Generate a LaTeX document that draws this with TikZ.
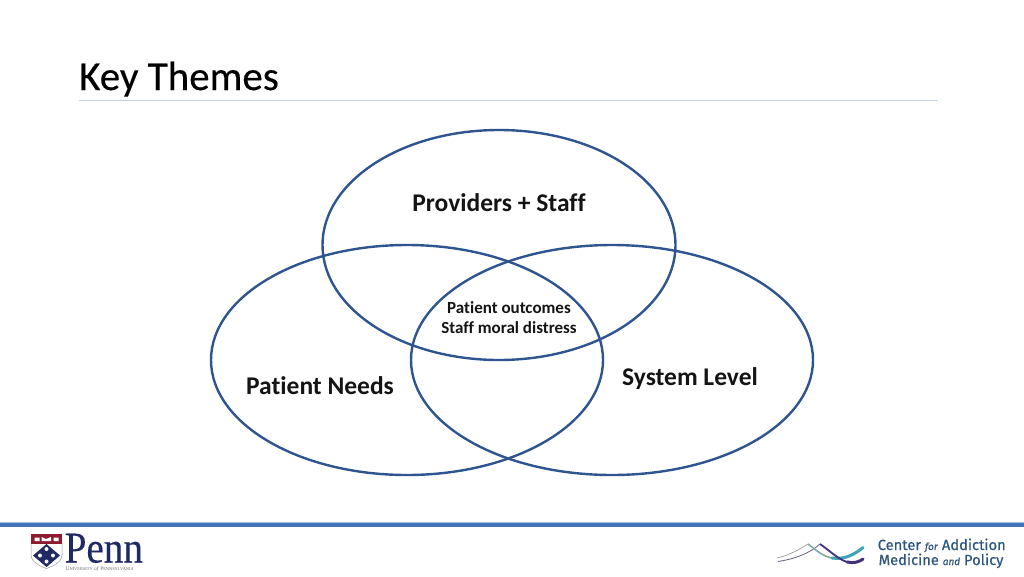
\documentclass[tikz,border=0pt]{standalone}
\usepackage{fontspec}
\setmainfont{Carlito}[Ligatures=NoCommon]
\newfontfamily\titlefont{Carlito}[Ligatures=NoCommon,FakeBold=0.35]
\newfontfamily\serifpenn{Liberation Serif}[FakeBold=0.3]
\newfontfamily\serifsmall{Liberation Serif}
\newfontfamily\sanslogo{Fira Sans}[FakeBold=0.5]
\definecolor{ring}{HTML}{2F5590}
\definecolor{barblue}{HTML}{4472B8}
\definecolor{rulelt}{HTML}{C5D3E6}
\definecolor{pennblue}{HTML}{1F2A63}
\definecolor{pennred}{HTML}{8E1C2E}
\definecolor{cmblue}{HTML}{2C5580}
\definecolor{teal}{HTML}{3FA3B8}
\definecolor{sage}{HTML}{7FAE9E}
\definecolor{plum}{HTML}{43307F}
\tikzset{
 venn/.style={draw=ring,line width=2.4pt,fill=none,ellipse,inner sep=0pt,outer sep=0pt},
 lab/.style={inner sep=0pt,font=\fontsize{25.5}{28}\selectfont\bfseries,text=black!92},
 small/.style={inner sep=0pt,align=center,font=\fontsize{17}{20}\selectfont\bfseries,text=black!92},
}
\usetikzlibrary{shapes.geometric}
\begin{document}
\begin{tikzpicture}[x=1pt,y=-1pt]
\useasboundingbox (0,0) rectangle (1024,576);
\fill[white] (0,0) rectangle (1024,576);
\node[anchor=base west,inner sep=0pt,font=\titlefont\fontsize{41}{44}\selectfont,text=black] (title) at (79,90) {Key Themes};
\coordinate (ruleL) at (79,100.5); \coordinate (ruleR) at (938,100.5);
\draw[rulelt,line width=1.3pt] (ruleL) -- (ruleR);
\node[venn,minimum width=353pt,minimum height=230pt] (top) at (499,245) {};
\node[venn,minimum width=392pt,minimum height=230pt] (left) at (407,360) {};
\node[venn,minimum width=402pt,minimum height=230pt] (right) at (612,360) {};
\node[lab] (prov) at (499,202.7) {Providers + Staff};
\node[lab] (pn) at (320,385.3) {Patient Needs};
\node[lab] (sl) at (690,378.7) {System Level};
\node[small] (mid) at (509,317.3) {Patient outcomes\\Staff moral distress};
\fill[barblue] (0,522) rectangle (1024,527);
\fill[barblue!45] (0,521.5) rectangle (1024,522.3);
% Penn shield
\draw[black!40,line width=.5pt,fill=white] (31,543) -- (31,555) .. controls (32,564) and (41,566) .. (46.5,568.5) .. controls (52,566) and (61,564) .. (62,555) -- (62,543) -- cycle;
\fill[pennred] (31,534) rectangle (62,543.5);
\fill[white] (34.5,537.5) rectangle (39.5,541) (41.5,537) -- (46,539) -- (51,537) -- (51,541) -- (41.5,541) -- cycle (53.5,537.5) rectangle (58.5,541);
\fill[pennblue] (46.5,544) -- (60,555.5) -- (46.5,567) -- (33,555.5) -- cycle;
\fill[white] (46.5,549) circle (2) (40,555.5) circle (2) (53,555.5) circle (2) (46.5,561.5) circle (2);
% Penn wordmark
\node[anchor=base west,inner sep=0pt,font=\serifpenn\fontsize{44}{48}\selectfont,text=pennblue,xscale=.89] (penn) at (64.5,562.5) {Penn};
\node[anchor=base west,inner sep=0pt,font=\serifsmall\fontsize{5.3}{6}\selectfont,text=black!60,xscale=1.02] (upenn) at (65.5,570.5) {U{\fontsize{4.3}{5}\selectfont NIVERSITY} \textit{of} P{\fontsize{4.3}{5}\selectfont ENNSYLVANIA}};
% CAMP mountain mark
\draw[black!40,line width=.7pt] (777,558) .. controls (790,555) and (800,549) .. (808,544);
\draw[black!45!plum!70,line width=.8pt] (778,561.5) .. controls (795,559) and (810,553) .. (820,544);
\draw[sage,line width=1.6pt] (808,544) .. controls (816,550) and (822,556) .. (832,558);
\draw[teal,line width=3pt,line cap=round] (832,558) .. controls (845,560) and (855,554) .. (863,547.5);
\draw[plum,line width=1.8pt] (820,544) .. controls (830,551) and (838,559) .. (847,562);
\draw[plum,line width=3pt,line cap=round] (847,562) .. controls (854,563.5) and (859,562) .. (863,559);
\node[anchor=base west,inner sep=0pt,font=\sanslogo\fontsize{14.7}{16}\selectfont,text=cmblue] (c1) at (877.5,550) {Center \textit{\fontsize{10}{12}\selectfont for} Addiction};
\node[anchor=base west,inner sep=0pt,font=\sanslogo\fontsize{14.7}{16}\selectfont,text=cmblue] (c2) at (878.5,565) {Medicine \textit{\fontsize{10}{12}\selectfont and} Policy};
\end{tikzpicture}
\end{document}
